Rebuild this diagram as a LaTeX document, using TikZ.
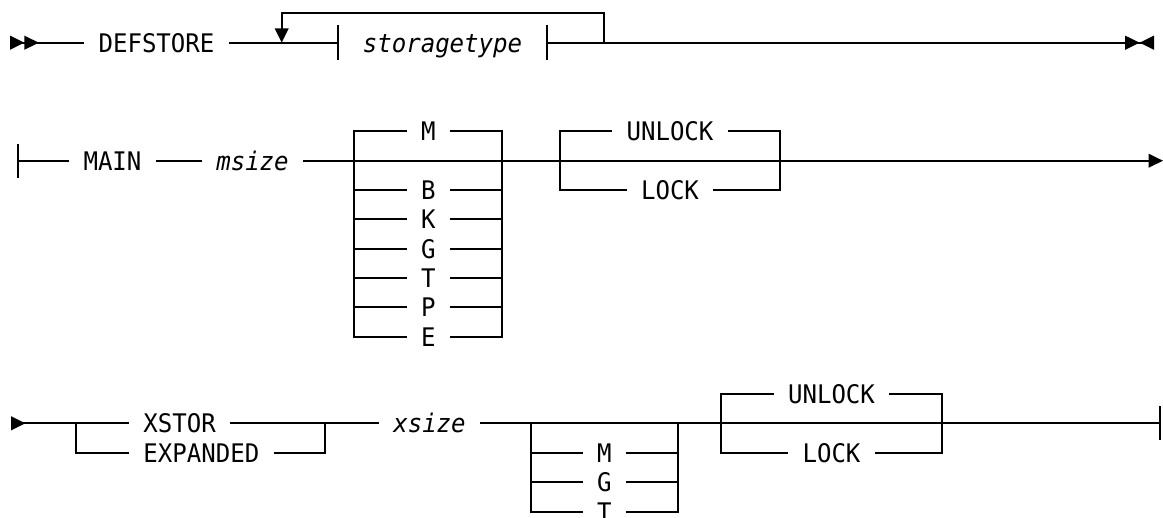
\documentclass[tikz,border=0pt]{standalone}
\usepackage{fontspec}
\setmonofont[FakeStretch=0.94]{DejaVu Sans Mono}
\usetikzlibrary{arrows.meta}

\tikzset{tri/.tip={Triangle[length=7.2pt, width=6.8pt]}}

\begin{document}
\begin{tikzpicture}[x=0.5pt, y=-0.5pt,
  rail/.style={line width=1pt},
  kw/.style={font=\fontsize{12.8}{15}\selectfont\ttfamily, inner xsep=7pt, inner ysep=0pt, text height=9.35pt, text depth=0pt},
  var/.style={kw, font=\fontsize{12.8}{15}\selectfont\ttfamily\itshape},
  parm/.style={var, minimum height=17pt, inner xsep=12pt},
]
\useasboundingbox (0,0) rectangle (1163,518);

% DEFSTORE line
\coordinate (r1start) at (10,42.7);
\node[kw] (defstore) at (156.5,42.7) {DEFSTORE};
\coordinate (r1back) at (281.7,42.7);
\node[parm] (stype) at (442.5,42.7) {storagetype};
\coordinate (r1top) at (442.5,13.3);
\coordinate (r1fwd) at (604,42.7);
\coordinate (r1end) at (1154,42.7);

\draw[rail, {tri[reversed] tri[reversed]}-] (r1start) -- (defstore);
\draw[rail] (defstore) -- (stype);
\draw[rail] (stype.north west) -- (stype.south west) (stype.north east) -- (stype.south east);
\draw[rail, -{tri[] tri[reversed]}] (stype) -- (r1end);
\draw[rail, -{tri[]}] (r1fwd) -- (r1fwd |- r1top) -| (r1back);

% MAIN line
\coordinate (r2start) at (17,160.7);
\node[kw] (main) at (112.5,160.7) {MAIN};
\node[var] (msize) at (252.5,160.7) {msize};
\coordinate (r2end) at (1163,160.7);

\draw[rail, {Bar[width=17pt]}-] (r2start) -- (main);
\draw[rail] (main) -- (msize);
\draw[rail, -{tri[]}] (msize) -- (r2end);

% msize units
\coordinate (szL) at (354,160.7);
\coordinate (szR) at (501.7,160.7);
\node[kw] (szM) at (428.4,131) {M};
\node[kw] (szB) at (428.4,190) {B};
\node[kw] (szK) at (428.4,219.5) {K};
\node[kw] (szG) at (428.4,248.7) {G};
\node[kw] (szT) at (428.4,278) {T};
\node[kw] (szP) at (428.4,307) {P};
\node[kw] (szE) at (428.4,336.7) {E};

\draw[rail] (szL) |- (szM.west) (szM.east) -| (szR);
\draw[rail] (szL) |- (szB.west) (szB.east) -| (szR);
\draw[rail] (szL) |- (szK.west) (szK.east) -| (szR);
\draw[rail] (szL) |- (szG.west) (szG.east) -| (szR);
\draw[rail] (szL) |- (szT.west) (szT.east) -| (szR);
\draw[rail] (szL) |- (szP.west) (szP.east) -| (szR);
\draw[rail] (szL) |- (szE.west) (szE.east) -| (szR);

% UNLOCK / LOCK (main)
\coordinate (lk1L) at (560,160.7);
\coordinate (lk1R) at (780,160.7);
\node[kw] (unlock1) at (670,131) {UNLOCK};
\node[kw] (lock1) at (670,190.2) {LOCK};

\draw[rail] (lk1L) |- (unlock1.west) (unlock1.east) -| (lk1R);
\draw[rail] (lk1L) |- (lock1.west) (lock1.east) -| (lk1R);

% XSTOR line
\coordinate (r3start) at (11,423.3);
\coordinate (xsL) at (76,423.3);
\coordinate (xsR) at (325,423.3);
\node[kw, anchor=west] (xstor) at (129,423.3) {XSTOR};
\node[kw, anchor=west] (expanded) at (129,452.8) {EXPANDED};
\node[var] (xsize) at (429.5,423.3) {xsize};
\coordinate (r3end) at (1161,423.3);

\draw[rail, {tri[reversed]}-] (r3start) -- (xstor);
\draw[rail] (xstor) -- (xsize);
\draw[rail] (xsL) |- (expanded.west) (expanded.east) -| (xsR);
\draw[rail, -{Bar[width=17pt]}] (xsize) -- (r3end);

% xsize units
\coordinate (xzL) at (531,423.3);
\coordinate (xzR) at (677.7,423.3);
\node[kw] (xzM) at (604.3,452.8) {M};
\node[kw] (xzG) at (604.3,482.3) {G};
\node[kw] (xzT) at (604.3,511.8) {T};

\draw[rail] (xzL) |- (xzM.west) (xzM.east) -| (xzR);
\draw[rail] (xzL) |- (xzG.west) (xzG.east) -| (xzR);
\draw[rail] (xzL) |- (xzT.west) (xzT.east) -| (xzR);

% UNLOCK / LOCK (xstor)
\coordinate (lk2L) at (721,423.3);
\coordinate (lk2R) at (942,423.3);
\node[kw] (unlock2) at (831.5,393.8) {UNLOCK};
\node[kw] (lock2) at (831.5,452.8) {LOCK};

\draw[rail] (lk2L) |- (unlock2.west) (unlock2.east) -| (lk2R);
\draw[rail] (lk2L) |- (lock2.west) (lock2.east) -| (lk2R);
\end{tikzpicture}
\end{document}
